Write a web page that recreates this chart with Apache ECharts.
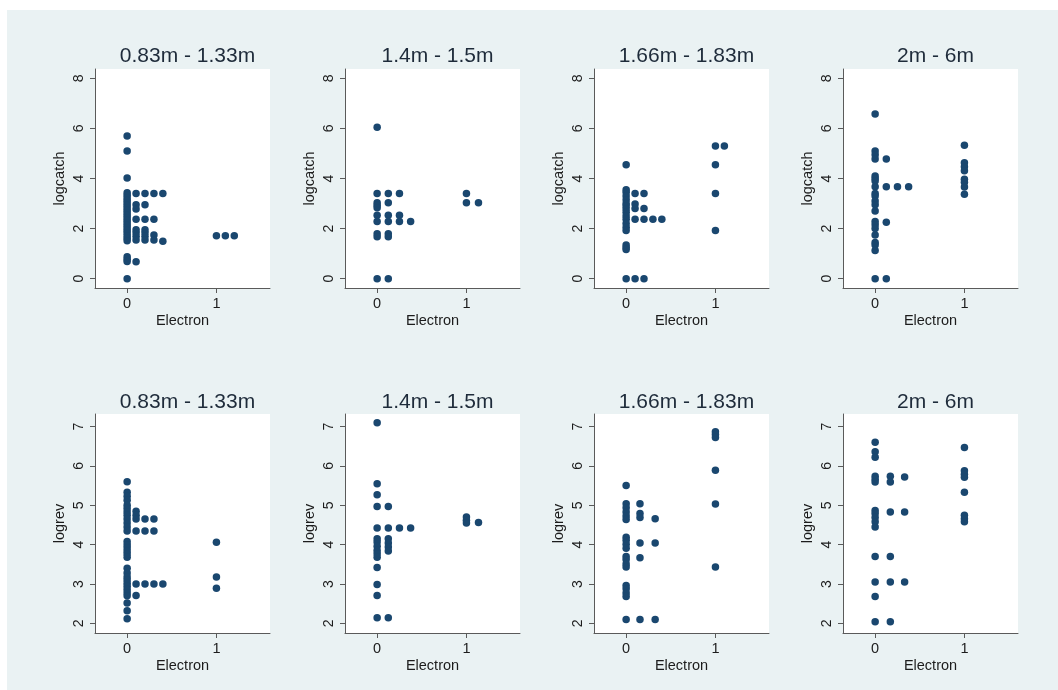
<!DOCTYPE html>
<html>
<head>
<meta charset="utf-8">
<script src="https://cdn.jsdelivr.net/npm/echarts@6/dist/echarts.min.js"></script>
<style>html,body{margin:0;padding:0;background:#fff}#c{width:1058px;height:690px}</style>
</head>
<body>
<div id="c"></div>
<script>
const panelTitles = ["0.83m - 1.33m", "1.4m - 1.5m", "1.66m - 1.83m", "2m - 6m"];
const rowYNames = ["logcatch", "logrev"];
const xTicks = [0, 1];
const yTicksCatch = [0, 2, 4, 6, 8];
const yTicksRev = [2, 3, 4, 5, 6, 7];

// logcatch, panel 1 (0.83m - 1.33m): [Electron (stacked offset), logcatch]
const catch1 = [
  [0,5.70],[0,5.10],[0,4.02],[0,3.43],[0,3.33],[0,3.22],[0,3.12],[0,3.02],[0,2.92],[0,2.82],[0,2.72],[0,2.62],
  [0,2.52],[0,2.42],[0,2.32],[0,2.22],[0,2.12],[0,2.02],[0,1.92],[0,1.82],[0,1.72],[0,1.62],[0,1.52],[0,0.88],[0,0.78],[0,0.69],[0,0],
  [0.1,3.40],[0.1,2.95],[0.1,2.78],[0.1,2.37],[0.1,1.95],[0.1,1.83],[0.1,1.70],[0.1,1.55],[0.1,0.68],
  [0.2,3.40],[0.2,2.95],[0.2,2.37],[0.2,1.95],[0.2,1.83],[0.2,1.70],[0.2,1.55],
  [0.3,3.40],[0.3,2.37],[0.3,1.75],[0.3,1.55],
  [0.4,3.40],[0.4,1.50],
  [1,1.72],[1.1,1.72],[1.2,1.72]
];
const catch2 = [
  [0,6.05],[0,3.40],[0,3.03],[0,2.93],[0,2.83],[0,2.53],[0,2.28],[0,1.80],[0,1.68],[0,0],
  [0.125,3.40],[0.125,3.03],[0.125,2.53],[0.125,2.28],[0.125,1.80],[0.125,1.68],[0.125,0],
  [0.25,3.40],[0.25,2.53],[0.25,2.28],
  [0.375,2.28],
  [1,3.40],[1,3.03],[1.135,3.03]
];
const catch3 = [
  [0,4.55],[0,3.55],[0,3.45],[0,3.30],[0,3.15],[0,3.00],[0,2.90],[0,2.78],[0,2.65],[0,2.50],[0,2.37],[0,2.20],
  [0,2.05],[0,1.92],[0,1.35],[0,1.25],[0,1.17],[0,0],
  [0.1,3.40],[0.1,2.98],[0.1,2.80],[0.1,2.37],[0.1,0],
  [0.2,3.40],[0.2,2.80],[0.2,2.37],[0.2,0],
  [0.3,2.37],[0.4,2.37],
  [1,5.30],[1,4.55],[1,3.40],[1,1.92],[1.1,5.30]
];
const catch4 = [
  [0,6.57],[0,5.10],[0,4.95],[0,4.78],[0,4.10],[0,4.00],[0,3.90],[0,3.67],[0,3.40],[0,3.30],[0,3.10],[0,2.95],
  [0,2.70],[0,2.28],[0,2.15],[0,2.00],[0,1.75],[0,1.45],[0,1.35],[0,1.13],[0,0],
  [0.125,4.78],[0.125,3.67],[0.125,2.25],[0.125,0],
  [0.25,3.67],[0.375,3.67],
  [1,5.33],[1,4.63],[1,4.47],[1,4.31],[1,3.97],[1,3.85],[1,3.66],[1,3.37]
];
const rev1 = [
  [0,5.60],[0,5.33],[0,5.23],[0,5.13],[0,5.00],[0,4.92],[0,4.83],[0,4.75],[0,4.65],[0,4.55],[0,4.45],[0,4.35],
  [0,4.08],[0,4.00],[0,3.92],[0,3.84],[0,3.76],[0,3.68],[0,3.40],[0,3.28],[0,3.18],[0,3.10],[0,3.02],[0,2.94],
  [0,2.86],[0,2.78],[0,2.70],[0,2.52],[0,2.32],[0,2.12],
  [0.1,4.85],[0.1,4.75],[0.1,4.65],[0.1,4.35],[0.1,3.00],[0.1,2.71],
  [0.2,4.65],[0.2,4.35],[0.2,3.00],
  [0.3,4.65],[0.3,4.35],[0.3,3.00],
  [0.4,3.00],
  [1,4.06],[1,3.18],[1,2.89]
];
const rev2 = [
  [0,7.10],[0,5.55],[0,5.27],[0,4.97],[0,4.42],[0,4.15],[0,4.07],[0,3.96],[0,3.85],[0,3.77],[0,3.68],[0,3.42],
  [0,2.99],[0,2.71],[0,2.14],
  [0.125,4.97],[0.125,4.42],[0.125,4.15],[0.125,4.04],[0.125,3.94],[0.125,3.84],[0.125,2.14],
  [0.25,4.42],[0.375,4.42],
  [1,4.70],[1,4.62],[1,4.55],[1.135,4.56]
];
const rev3 = [
  [0,5.50],[0,5.04],[0,4.94],[0,4.83],[0,4.73],[0,4.64],[0,4.19],[0,4.11],[0,4.01],[0,3.91],[0,3.70],[0,3.62],
  [0,3.51],[0,3.43],[0,2.96],[0,2.88],[0,2.77],[0,2.68],[0,2.10],
  [0.155,5.04],[0.155,4.79],[0.155,4.69],[0.155,4.04],[0.155,3.67],[0.155,2.10],
  [0.325,4.66],[0.325,4.04],[0.325,2.10],
  [1,6.87],[1,6.80],[1,6.72],[1,5.89],[1,5.03],[1,3.43]
];
const rev4 = [
  [0,6.60],[0,6.36],[0,6.22],[0,5.74],[0,5.66],[0,5.59],[0,4.87],[0,4.79],[0,4.69],[0,4.58],[0,4.45],[0,3.70],
  [0,3.05],[0,2.68],[0,2.04],
  [0.17,5.74],[0.17,5.59],[0.17,4.83],[0.17,3.70],[0.17,3.05],[0.17,2.04],
  [0.33,5.72],[0.33,4.83],[0.33,3.05],
  [1,6.47],[1,5.88],[1,5.79],[1,5.71],[1,5.33],[1,4.75],[1,4.66],[1,4.58]
];

const panels = [catch1, catch2, catch3, catch4, rev1, rev2, rev3, rev4];

const colLeft = [95, 345, 594, 843];
const colWidth = 175;
const rowTop = [69, 414];
const rowHeight = 219;
const rowRange = [[-0.37, 8.37], [1.755, 7.32]];
const rowTicks = [yTicksCatch, yTicksRev];
const rowTitleTop = [41, 387];

const grids = [], xAxes = [], yAxes = [], series = [], titles = [];
const axisColor = '#5a5a5a';
const textColor = '#1c1c1c';
const ff = '"Liberation Sans", Arial, sans-serif';

for (let i = 0; i < 8; i++) {
  const r = Math.floor(i / 4), c = i % 4;
  grids.push({
    left: colLeft[c], top: rowTop[r], width: colWidth, height: rowHeight,
    show: true, backgroundColor: '#ffffff', borderWidth: 0
  });
  xAxes.push({
    type: 'value', gridIndex: i, min: -0.36, max: 1.6,
    name: 'Electron', nameLocation: 'middle', nameGap: 25,
    nameTextStyle: { fontFamily: ff, fontSize: 14.5, color: textColor },
    axisLine: { show: true, onZero: false, lineStyle: { color: axisColor, width: 1 } },
    axisTick: { show: true, length: 5, customValues: xTicks, lineStyle: { color: axisColor } },
    axisLabel: { customValues: xTicks, fontFamily: ff, fontSize: 14.5, color: textColor, margin: 8 },
    splitLine: { show: false }
  });
  yAxes.push({
    type: 'value', gridIndex: i, min: rowRange[r][0], max: rowRange[r][1],
    name: rowYNames[r], nameLocation: 'middle', nameGap: 28, nameRotate: 90,
    nameTextStyle: { fontFamily: ff, fontSize: 14.5, color: textColor },
    axisLine: { show: true, onZero: false, lineStyle: { color: axisColor, width: 1 } },
    axisTick: { show: true, length: 5, customValues: rowTicks[r], lineStyle: { color: axisColor } },
    axisLabel: { customValues: rowTicks[r], rotate: 90, fontFamily: ff, fontSize: 14, color: textColor, margin: 9 },
    splitLine: { show: false }
  });
  series.push({
    type: 'scatter', xAxisIndex: i, yAxisIndex: i, data: panels[i],
    symbol: 'circle', symbolSize: 7.5,
    itemStyle: { color: '#1a476f', opacity: 1 }
  });
  titles.push({
    text: panelTitles[c], left: colLeft[c] + colWidth / 2, top: rowTitleTop[r], textAlign: 'center',
    textStyle: { fontFamily: ff, fontSize: 21, fontWeight: 'normal', color: '#1e2b3a' }
  });
}

const chart = echarts.init(document.getElementById('c'), null, { renderer: 'canvas' });
chart.setOption({
  backgroundColor: '#ffffff',
  animation: false,
  graphic: [{
    type: 'rect', left: 7, top: 10, z: -10, silent: true,
    shape: { width: 1051, height: 680 },
    style: { fill: '#eaf2f3' }
  }],
  title: titles,
  grid: grids,
  xAxis: xAxes,
  yAxis: yAxes,
  series: series
});
</script>
</body>
</html>
